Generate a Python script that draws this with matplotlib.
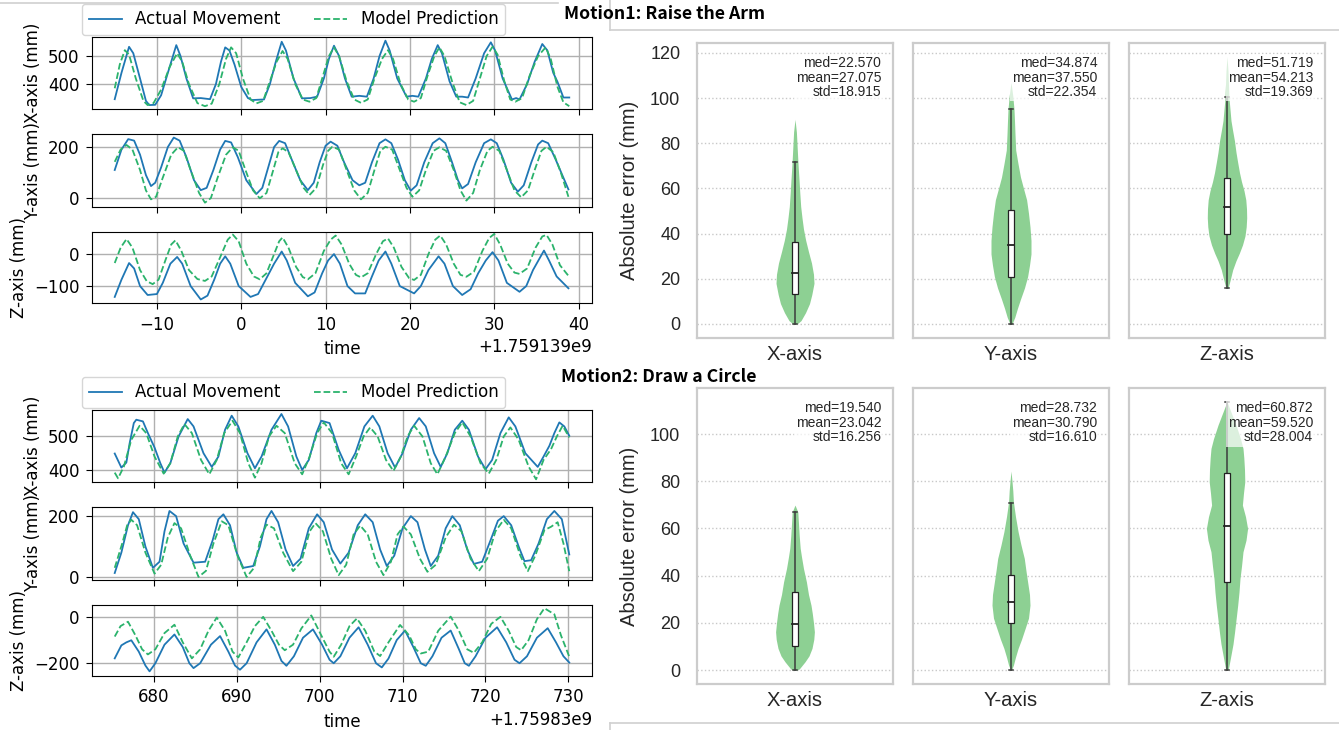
import numpy as np
import matplotlib.pyplot as plt
from matplotlib.lines import Line2D
from matplotlib.patches import Rectangle

# ---------------- data ----------------
AXIS_NAMES = ["X-axis", "Y-axis", "Z-axis"]
T0_M1 = 1759139000
T0_M2 = 1759830000

# motion 1 (raise the arm): (time offset s, mm)
M1_X_ACT = [(-15.0,346),(-14.2,440),(-13.3,533),(-12.8,510),(-12.0,420),(-11.3,340),(-10.9,325),(-10.2,326),(-9.5,360),(-8.6,450),(-7.7,539),(-7.2,500),(-6.5,420),(-5.7,349),(-4.8,350),(-3.7,346),(-3.0,400),(-2.4,480),(-1.9,531),(-1.4,520),(-0.8,470),(0.0,390),(0.8,350),(1.3,343),(2.7,345),(3.4,400),(4.1,480),(4.8,551),(5.3,520),(6.2,420),(7.2,349),(8.2,350),(9.0,355),(9.8,420),(10.4,490),(11.0,537),(11.6,500),(12.3,420),(13.1,355),(14.0,358),(14.9,355),(15.7,420),(16.4,500),(17.1,555),(17.6,520),(18.5,420),(19.6,355),(20.3,358),(21.0,355),(21.9,420),(22.6,490),(23.3,539),(23.8,510),(24.7,410),(25.5,355),(26.2,355),(26.9,352),(27.8,420),(28.8,510),(29.6,549),(30.1,520),(31.0,420),(32.1,345),(32.6,350),(33.0,345),(33.9,400),(34.8,480),(35.7,543),(36.3,520),(37.0,440),(37.5,408),(38.2,352),(38.9,352)]
M1_X_PRED = [(-15.0,385),(-14.4,470),(-13.8,521),(-13.3,505),(-12.5,420),(-11.6,340),(-11.1,325),(-10.4,332),(-9.5,380),(-8.5,460),(-7.6,510),(-7.0,480),(-6.2,400),(-5.2,332),(-4.3,321),(-3.5,330),(-2.6,400),(-1.8,490),(-1.2,531),(-0.6,510),(0.2,420),(1.1,345),(1.8,331),(2.6,340),(3.4,410),(4.2,480),(4.9,518),(5.5,490),(6.4,400),(7.3,345),(8.1,337),(8.9,350),(9.7,430),(10.4,500),(11.0,531),(11.6,500),(12.5,410),(13.4,345),(14.2,333),(15.0,345),(15.8,420),(16.7,490),(17.4,521),(18.0,490),(18.9,400),(19.8,345),(20.5,337),(21.3,350),(22.1,430),(22.9,500),(23.5,531),(24.1,500),(25.0,410),(25.9,335),(26.7,325),(27.5,340),(28.3,420),(29.1,500),(29.8,533),(30.4,505),(31.2,410),(31.9,345),(32.5,337),(33.3,350),(34.2,430),(35.2,500),(36.1,531),(36.7,490),(37.5,390),(38.2,335),(38.9,321)]
M1_Y_ACT = [(-15.0,110),(-14.2,190),(-13.4,231),(-12.7,225),(-12.0,170),(-11.3,90),(-10.7,47),(-10.2,60),(-9.5,120),(-8.7,200),(-8.0,237),(-7.3,225),(-6.5,160),(-5.6,70),(-4.8,31),(-4.1,40),(-3.3,110),(-2.5,190),(-1.9,224),(-1.2,218),(-0.4,160),(0.6,70),(1.8,16),(2.5,40),(3.2,120),(3.9,200),(4.5,224),(5.2,215),(6.0,150),(7.0,70),(7.9,31),(8.6,60),(9.3,140),(10.0,205),(10.6,221),(11.4,205),(12.2,140),(13.2,70),(14.0,50),(14.7,60),(15.5,140),(16.4,215),(17.1,230),(17.8,215),(18.6,150),(19.4,70),(20.1,29),(20.8,50),(21.7,140),(22.7,215),(23.5,234),(24.2,215),(25.0,140),(25.7,70),(26.2,38),(26.9,55),(27.8,140),(28.8,215),(29.6,230),(30.3,215),(31.1,150),(32.0,60),(32.8,25),(33.5,50),(34.4,140),(35.2,210),(35.7,225),(36.4,215),(37.3,150),(38.2,80),(38.8,34)]
M1_Y_PRED = [(-15.0,142),(-14.3,190),(-13.6,208),(-12.9,190),(-12.0,110),(-11.3,30),(-10.7,-5),(-10.1,5),(-9.3,80),(-8.3,170),(-7.5,199),(-6.8,185),(-6.0,110),(-5.0,20),(-4.3,-18),(-3.6,0),(-2.8,80),(-1.8,170),(-1.0,199),(-0.3,185),(0.5,110),(1.4,30),(2.2,-1),(3.0,20),(3.8,110),(4.4,180),(4.9,195),(5.6,180),(6.5,110),(7.4,40),(8.1,12),(8.9,40),(9.7,130),(10.3,185),(10.8,201),(11.6,190),(12.5,110),(13.4,30),(14.2,-5),(15.0,20),(15.8,110),(16.5,185),(17.1,201),(17.9,190),(18.8,110),(19.6,40),(20.3,5),(21.1,30),(21.9,110),(22.8,185),(23.5,199),(24.3,185),(25.2,110),(26.0,30),(26.7,-10),(27.5,20),(28.3,110),(29.2,185),(29.8,201),(30.6,185),(31.5,110),(32.4,30),(33.2,3),(34.0,30),(34.8,110),(35.6,185),(36.2,201),(37.0,180),(37.9,100),(38.8,5)]
M1_Z_ACT = [(-15.0,-134),(-14.2,-80),(-13.3,-28),(-12.7,-45),(-12.0,-100),(-11.1,-128),(-10.0,-125),(-9.3,-90),(-8.4,-30),(-7.6,-9),(-7.0,-30),(-6.0,-100),(-4.8,-142),(-4.0,-130),(-3.2,-80),(-2.5,-30),(-1.9,-7),(-1.3,-30),(-0.3,-100),(1.1,-134),(2.0,-125),(2.9,-80),(3.9,-30),(4.8,8),(5.4,-20),(6.4,-90),(7.9,-132),(8.7,-120),(9.6,-60),(10.3,-20),(11.0,0),(11.7,-30),(12.6,-100),(13.5,-123),(14.7,-123),(15.5,-70),(16.3,-20),(17.1,8),(17.8,-30),(18.8,-100),(20.5,-123),(21.3,-100),(22.2,-50),(23.4,-7),(24.1,-30),(25.1,-100),(26.2,-128),(27.2,-110),(28.1,-60),(29.0,-20),(29.8,6),(30.5,-20),(31.5,-90),(33.0,-118),(33.8,-100),(34.6,-50),(35.9,11),(36.5,-20),(37.4,-70),(38.8,-107)]
M1_Z_PRED = [(-15.0,-28),(-14.3,20),(-13.6,47),(-12.9,20),(-12.0,-50),(-11.2,-85),(-10.5,-94),(-9.8,-80),(-9.0,-20),(-8.3,30),(-7.8,43),(-7.1,10),(-6.2,-50),(-5.2,-78),(-4.3,-84),(-3.5,-70),(-2.5,-10),(-1.6,45),(-1.0,61),(-0.3,40),(0.6,-30),(1.5,-70),(2.2,-79),(3.0,-60),(3.9,0),(4.5,40),(4.9,52),(5.6,20),(6.5,-40),(7.3,-72),(7.9,-79),(8.8,-60),(9.8,10),(10.6,45),(11.2,58),(11.9,30),(12.8,-30),(13.6,-65),(14.2,-73),(15.0,-60),(16.0,0),(16.8,40),(17.4,49),(18.1,20),(19.0,-40),(19.9,-75),(20.5,-81),(21.3,-65),(22.2,0),(23.0,45),(23.6,58),(24.3,30),(25.2,-30),(26.0,-65),(26.7,-71),(27.6,-55),(28.6,10),(29.4,50),(30.0,63),(30.7,30),(31.6,-30),(32.4,-58),(33.0,-62),(33.9,-45),(34.9,20),(35.7,55),(36.2,60),(36.9,30),(37.8,-35),(38.8,-68)]

# motion 2 (draw a circle)
M2_X_ACT = [(675.3,449),(676.1,407),(676.7,422),(677.1,480),(677.6,540),(677.9,550),(678.7,545),(679.3,510),(680.1,467),(680.8,420),(681.3,392),(682.0,420),(683.0,500),(684.1,552),(684.8,530),(686.0,450),(687.0,409),(687.8,440),(688.6,520),(689.4,562),(690.2,530),(691.3,450),(692.2,405),(693.0,440),(694.2,520),(695.4,567),(696.2,530),(697.2,440),(697.9,400),(698.7,430),(699.6,510),(700.2,547),(701.2,540),(702.3,460),(703.3,405),(704.3,450),(705.4,530),(706.4,562),(707.2,530),(708.2,450),(709.1,407),(710.0,450),(711.0,520),(712.0,555),(712.8,530),(713.8,450),(714.6,409),(715.4,450),(716.3,520),(717.2,547),(718.0,520),(719.1,440),(720.0,402),(720.8,430),(721.8,510),(722.8,557),(723.6,530),(724.8,450),(726.3,409),(727.0,440),(727.7,472),(728.3,510),(728.9,542),(729.5,530),(730.1,502)]
M2_X_PRED = [(675.3,392),(675.7,375),(676.4,410),(677.3,490),(678.3,532),(679.1,510),(680.1,440),(681.2,389),(682.0,420),(682.9,500),(683.7,537),(684.6,510),(685.7,430),(686.7,387),(687.6,430),(688.5,510),(689.5,547),(690.4,510),(691.4,420),(692.2,377),(693.0,420),(693.9,500),(694.8,532),(695.8,510),(697.0,420),(697.9,387),(698.8,440),(699.7,510),(700.5,542),(701.5,510),(702.6,420),(703.5,387),(704.4,440),(705.3,500),(706.1,527),(707.0,500),(708.0,430),(708.9,397),(709.8,440),(710.6,500),(711.4,532),(712.4,500),(713.4,420),(714.2,387),(715.2,440),(716.3,510),(717.2,542),(718.2,500),(719.4,420),(720.4,389),(721.3,430),(722.2,500),(723.0,527),(724.0,490),(725.2,410),(726.1,372),(727.0,430),(727.9,462),(728.6,500),(729.3,532),(730.1,497)]
M2_Y_ACT = [(675.3,13),(676.1,80),(676.9,170),(677.5,213),(678.2,190),(679.0,100),(679.9,30),(680.7,50),(681.3,150),(681.9,217),(682.7,200),(683.6,110),(684.8,47),(686.2,50),(687.1,120),(687.8,190),(688.4,206),(689.2,170),(690.0,80),(690.8,30),(692.0,36),(692.8,100),(693.6,190),(694.2,217),(695.0,180),(695.9,90),(696.8,36),(697.7,60),(698.7,160),(699.7,206),(700.5,180),(701.5,90),(702.5,44),(703.5,80),(704.6,170),(705.5,206),(706.4,180),(707.3,90),(708.1,36),(709.0,70),(710.0,160),(711.0,200),(711.8,180),(712.7,90),(713.4,36),(714.3,70),(715.2,160),(716.0,200),(716.9,170),(717.8,90),(718.6,43),(719.6,50),(720.6,120),(721.5,185),(722.2,200),(723.1,170),(724.0,100),(724.7,52),(725.5,55),(726.4,110),(727.4,190),(728.3,217),(729.2,190),(730.1,74)]
M2_Y_PRED = [(675.3,30),(676.2,110),(676.8,170),(677.3,188),(678.0,170),(679.0,80),(680.1,11),(680.9,40),(681.7,130),(682.5,177),(683.3,160),(684.4,70),(685.4,0),(686.3,20),(687.2,110),(688.2,183),(689.0,170),(690.1,70),(691.2,0),(692.1,30),(692.9,130),(693.6,172),(694.5,160),(695.6,80),(696.8,19),(697.8,50),(698.8,150),(699.5,177),(700.4,150),(701.4,60),(702.3,6),(703.2,40),(704.1,140),(704.9,169),(705.8,140),(706.8,50),(707.7,6),(708.6,50),(709.4,140),(710.1,166),(711.0,140),(712.1,60),(713.0,17),(714.0,40),(715.2,130),(716.2,172),(717.1,150),(718.2,60),(719.2,19),(720.2,60),(721.2,150),(722.2,188),(723.1,160),(724.2,70),(725.1,19),(726.0,70),(727.1,154),(727.9,165),(728.7,180),(729.4,110),(730.1,19)]
M2_Z_ACT = [(675.3,-179),(676.1,-123),(676.7,-110),(677.3,-101),(678.2,-150),(679.0,-210),(679.5,-235),(680.2,-200),(681.3,-120),(682.5,-76),(683.5,-130),(684.3,-200),(684.8,-221),(685.6,-200),(686.9,-120),(688.0,-83),(689.0,-150),(689.8,-210),(690.4,-228),(691.2,-200),(692.4,-110),(693.6,-54),(694.6,-120),(695.4,-190),(696.0,-211),(696.9,-170),(698.0,-90),(699.2,-54),(700.3,-120),(701.2,-185),(701.7,-200),(702.5,-170),(703.6,-90),(704.7,-45),(705.8,-120),(706.8,-200),(707.5,-218),(708.3,-180),(709.3,-100),(710.3,-59),(711.3,-130),(712.2,-200),(712.8,-211),(713.6,-170),(714.7,-90),(715.8,-59),(716.8,-140),(717.5,-200),(718.0,-211),(718.8,-170),(720.0,-90),(721.4,-45),(722.5,-110),(723.5,-185),(724.1,-200),(725.0,-170),(726.2,-90),(727.5,-49),(728.5,-110),(729.4,-170),(730.1,-197)]
M2_Z_PRED = [(675.3,-85),(676.0,-40),(676.9,-21),(677.8,-80),(678.6,-140),(679.3,-162),(680.2,-140),(681.3,-70),(682.5,-34),(683.5,-110),(684.6,-179),(685.6,-140),(686.6,-60),(687.6,-3),(688.6,-60),(689.5,-150),(690.2,-175),(691.2,-110),(692.2,-40),(693.2,0),(694.2,-60),(695.1,-120),(695.8,-144),(696.8,-120),(697.8,-50),(699.0,6),(700.2,-80),(701.2,-150),(701.7,-172),(702.6,-120),(703.6,-40),(704.5,-7),(705.5,-60),(706.6,-150),(707.3,-169),(708.3,-110),(709.7,-35),(710.8,-80),(711.6,-140),(712.2,-158),(713.1,-150),(714.3,-60),(715.8,1),(716.8,-60),(717.8,-140),(718.6,-155),(719.6,-110),(720.7,-30),(721.8,0),(722.8,-60),(723.7,-130),(724.3,-144),(725.2,-100),(726.2,-10),(727.1,37),(728.3,11),(729.1,-80),(730.1,-172)]

# violin profiles: (error mm, half width in px-units)
M1_VIOLIN = [
    ([0, 1.5, 5, 9, 13, 18, 22, 27, 32, 37, 42, 47, 52, 58, 64, 71, 78, 85, 90.6],
     [2, 6, 10.5, 14.5, 16.8, 19, 18.5, 16.5, 13.5, 10.7, 8.5, 7, 5.7, 4.8, 4, 3, 2.2, 1.4, 0]),
    ([0, 3, 7, 11, 16, 21, 26, 31, 37, 43, 49, 55, 60, 65, 71, 77, 84, 90, 95, 101, 107],
     [1, 3.8, 6.5, 9.5, 13.5, 16.6, 18.5, 20, 20, 19, 17.5, 15.6, 12.5, 9.5, 7, 4.7, 4, 3.5, 3, 1.8, 0]),
    ([15.8, 20, 24, 28, 31.3, 35, 39, 43, 47, 51, 55, 59, 63, 67, 72, 76, 81, 86, 90, 95, 100, 106, 112, 118.4],
     [1, 3.5, 5.7, 9, 12.3, 15.5, 18, 19.2, 19.7, 19.5, 18.8, 17, 14.5, 12.5, 10.5, 9, 7.5, 5.5, 4, 3, 2, 1.5, 1, 0]),
]
M2_VIOLIN = [
    ([0, 0.5, 3.5, 6, 9.2, 13, 16.2, 20, 24, 27.5, 32, 37.4, 43, 48, 51.6, 57, 62, 67, 69.9],
     [2, 4.3, 10, 14, 17, 18.8, 19.4, 18.5, 17.3, 16, 13.5, 11.4, 8.5, 6.5, 5.2, 4.2, 3.5, 2.8, 0]),
    ([0, 2.1, 5.5, 9.2, 13, 17.7, 22, 27.5, 32, 37.4, 42, 47.3, 53, 58.6, 65, 71.3, 76, 80, 84.3],
     [0.5, 2.4, 4.5, 7.1, 10.5, 14.2, 17.5, 19, 18.5, 16.6, 15, 13.3, 10, 7.1, 4.5, 2.4, 1.8, 1, 0]),
    ([0, 0.7, 6.4, 11, 16.2, 22, 27.5, 33, 38.8, 44, 50.1, 55, 60, 65, 69.9, 75, 79.8, 85, 90, 93.9, 98, 103.8, 108, 113.7],
     [0.5, 1.5, 4, 6, 7.6, 9.2, 10.7, 12, 13, 14.5, 16, 19, 20.6, 18.5, 15.4, 16.5, 17.8, 17.5, 16.8, 16, 13.5, 9, 5.2, 0]),
]
# box stats: q1, q3, whisker low, whisker high
M1_BOX = [(13.3, 36.5, 0, 71.5), (21.0, 50.5, 0, 95.4), (39.9, 64.5, 15.8, 100.6)]
M2_BOX = [(10.3, 33.2, 0, 67.1), (19.8, 40.3, 0, 70.9), (37.4, 83.6, 0, 113.7)]
M1_MED = [22.570, 34.874, 51.719]
M1_MEAN = [27.075, 37.550, 54.213]
M1_STD = [18.915, 22.354, 19.369]
M2_MED = [19.540, 28.732, 60.872]
M2_MEAN = [23.042, 30.790, 59.520]
M2_STD = [16.256, 16.610, 28.004]

# ---------------- drawing ----------------
W, H = 1339, 730
BLUE = "#1f77b4"
GREEN = "#2bb36c"
VIOLIN = "#8dd093"
plt.rcParams["font.family"] = ["DejaVu Sans"]
plt.rcParams["font.size"] = 12

fig = plt.figure(figsize=(W / 100, H / 100), dpi=100)


def px_axes(l, t, r, b, **kw):
    return fig.add_axes([l / W, 1 - b / H, (r - l) / W, (b - t) / H], **kw)


def draw_series(top, t0, act, pred, ylims, yticks):
    boxes = [(92, top, 592, top + 72), (92, top + 97, 592, top + 170), (92, top + 195, 592, top + 266)]
    axes = []
    for i, box in enumerate(boxes):
        ax = px_axes(*box, sharex=axes[0] if axes else None)
        ta, va = np.array(act[i]).T
        tp, vp = np.array(pred[i]).T
        ax.plot(t0 + ta, va, color=BLUE, lw=1.3, label="Actual Movement")
        ax.plot(t0 + tp, vp, "--", color=GREEN, lw=1.3, label="Model Prediction")
        ax.set_ylim(ylims[i])
        ax.set_yticks(yticks[i])
        ax.set_ylabel(f"{AXIS_NAMES[i]} (mm)")
        ax.grid(True, color="#b0b0b0", lw=1.0)
        ax.tick_params(length=4.5, pad=4.5)
        if i < 2:
            ax.tick_params(labelbottom=False)
        axes.append(ax)
    axes[-1].set_xlabel("time", labelpad=5)
    h, l = axes[0].get_legend_handles_labels()
    fig.legend(h, l, loc="lower left", bbox_to_anchor=(82 / W, 1 - (top - 2) / H),
               ncol=2, borderaxespad=0, fontsize=12)
    return axes


draw_series(37, T0_M1, [M1_X_ACT, M1_Y_ACT, M1_Z_ACT], [M1_X_PRED, M1_Y_PRED, M1_Z_PRED],
            [(311, 568), (-35, 251), (-153, 69)], [[400, 500], [0, 200], [-100, 0]])
draw_series(410, T0_M2, [M2_X_ACT, M2_Y_ACT, M2_Z_ACT], [M2_X_PRED, M2_Y_PRED, M2_Z_PRED],
            [(364, 579), (-10, 230), (-255, 51)], [[400, 500], [0, 200], [-200, 0]])

RFONT = "Liberation Sans"
TXT = "#262626"


def draw_violins(top, bottom, profiles, boxstats, meds, means, stds, ylim, yticks):
    lefts = [697, 913, 1129]
    for i, left in enumerate(lefts):
        ax = px_axes(left, top, left + 196, bottom)
        y, hw = profiles[i]
        hw = np.array(hw) / 196.0
        ax.fill_betweenx(y, -hw, hw, color=VIOLIN, lw=0, zorder=2)
        q1, q3, lo, hi = boxstats[i]
        ax.plot([0, 0], [lo, hi], color="#3c3c3c", lw=1.1, zorder=3)
        for v in (lo, hi):
            ax.plot([-0.012, 0.012], [v, v], color="#3c3c3c", lw=1.1, zorder=3)
        ax.add_patch(Rectangle((-0.015, q1), 0.03, q3 - q1, facecolor="white",
                               edgecolor="#222222", lw=0.9, zorder=4))
        ax.plot([-0.015, 0.015], [meds[i], meds[i]], color="#222222", lw=1.3, zorder=5)
        ax.text(0.94, 0.955, f"med={meds[i]:.3f}\nmean={means[i]:.3f}\nstd={stds[i]:.3f}",
                transform=ax.transAxes, ha="right", va="top", fontsize=10, family=RFONT,
                color=TXT, linespacing=1.05, zorder=6,
                bbox=dict(facecolor="white", alpha=0.7, edgecolor="none", pad=1.5))
        ax.set_xlim(-0.5, 0.5)
        ax.set_ylim(ylim)
        ax.set_xticks([0])
        ax.set_xticklabels([AXIS_NAMES[i]], family=RFONT, fontsize=14.5, color=TXT)
        ax.set_yticks(yticks)
        ax.grid(axis="y", ls=":", color="#c8c8c8", lw=1.0)
        ax.set_axisbelow(True)
        for s in ax.spines.values():
            s.set_color("#cccccc")
            s.set_linewidth(1.6)
        ax.tick_params(axis="x", length=0, pad=5)
        ax.tick_params(axis="y", length=0, pad=12)
        if i == 0:
            for lab in ax.get_yticklabels():
                lab.set_family(RFONT)
                lab.set_fontsize(13)
                lab.set_color(TXT)
            ax.set_ylabel("Absolute error (mm)", family=RFONT, fontsize=14.5, color=TXT, labelpad=8)
        else:
            ax.tick_params(axis="y", labelleft=False)


draw_violins(43, 338, M1_VIOLIN, M1_BOX, M1_MED, M1_MEAN, M1_STD, (-6.2, 124.4), range(0, 121, 20))
draw_violins(388, 684, M2_VIOLIN, M2_BOX, M2_MED, M2_MEAN, M2_STD, (-5.9, 119.5), range(0, 101, 20))

TFONT = ["Noto Sans CJK SC", "DejaVu Sans"]
fig.text(564 / W, 1 - 14 / H, "Motion1: Raise the Arm", family=TFONT, fontweight="bold",
         fontsize=12.7, va="center", ha="left")
fig.text(561 / W, 1 - 377 / H, "Motion2: Draw a Circle", family=TFONT, fontweight="bold",
         fontsize=12.7, va="center", ha="left")

# page borders visible in the screenshot
EDGE = "#d0d0d0"
for xs, ys in [((0, 558), (3, 3)), ((610, 610), (0, 30)), ((610, W), (30, 30)),
               ((610, W), (723, 723)), ((610, 610), (723, H))]:
    fig.add_artist(Line2D([x / W for x in xs], [1 - y / H for y in ys], color=EDGE, lw=1.2))

fig.savefig("out.png", dpi=100)
